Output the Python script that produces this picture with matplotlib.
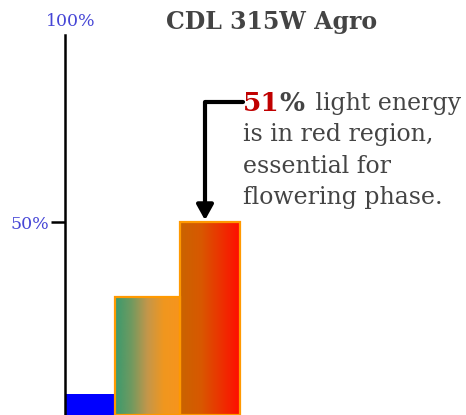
import numpy as np
import matplotlib
matplotlib.use('Agg')
import matplotlib.pyplot as plt
from matplotlib.colors import LinearSegmentedColormap

# data
band_edges = [0, 49, 50, 115, 115, 175]   # left/right edge of each band bar
shares = [4, 30, 50]                       # % of light energy per band
red_share = 51
title = 'CDL 315W Agro'
note_lines = [' light energy', 'is in red region,', 'essential for', 'flowering phase.']

gray = '#444444'
blue_lbl = '#4646d6'
serif = ['DejaVu Serif']

fig = plt.figure(figsize=(4.66, 4.15), dpi=100)
ax = fig.add_axes([65/466, 0, 401/466, 380/415])
ymin = -1.6
ax.set_xlim(0, 401)
ax.set_ylim(ymin, 100)

cmaps = [None,
         LinearSegmentedColormap.from_list('go', [(0, '#3a9a6e'), (0.25, '#6f9a60'),
                                                  (0.5, '#c4964a'), (0.75, '#f0971f'),
                                                  (1, '#f7941d')]),
         LinearSegmentedColormap.from_list('or', [(0, '#c96400'), (0.35, '#d85800'),
                                                  (1, '#ff0d00')])]

for i, v in enumerate(shares):
    x0, x1 = band_edges[2*i], band_edges[2*i+1]
    if i == 0:
        ax.bar(x0, v - ymin, width=x1 - x0, bottom=ymin, align='edge',
               color='#0000ff', edgecolor='none', zorder=2)
        continue
    r = ax.bar(x0, v - ymin, width=x1 - x0, bottom=ymin, align='edge',
               color='none', edgecolor='#ff9900', linewidth=1.6, zorder=3)[0]
    grad = np.linspace(0, 1, 256).reshape(1, -1)
    im = ax.imshow(grad, cmap=cmaps[i], extent=(x0, x1, ymin, v), aspect='auto',
                   zorder=2, interpolation='bicubic')
    im.set_clip_path(r)

ax.set_xlim(0, 401)
ax.set_ylim(ymin, 100)

for s in ['top', 'right', 'bottom']:
    ax.spines[s].set_visible(False)
ax.spines['left'].set_linewidth(1.8)
ax.spines['left'].set_zorder(4)
ax.set_xticks([])
ax.set_yticks([50])
ax.set_yticklabels(['50%'], color=blue_lbl, fontsize=12.5, family=serif)
ax.tick_params(axis='y', length=10, width=1.8, pad=1.5)
ax.text(6, 100 + 3.5, '100%', ha='center', va='center', color=blue_lbl,
        fontsize=12.5, family=serif, clip_on=False)

fig.text(272/466, 1 - 22/415, title, ha='center', va='center', color=gray,
         fontsize=17, fontweight='bold', family=serif)

# annotation with arrow
bar3_mid = (band_edges[4] + band_edges[5]) / 2 - 5
ax.annotate('', xy=(bar3_mid, shares[2] + 0.5), xytext=(178, 82),
            arrowprops=dict(arrowstyle='-|>,head_length=0.9,head_width=0.5',
                            connectionstyle='angle,angleA=180,angleB=90,rad=0',
                            color='black', lw=3, shrinkA=0, shrinkB=0),
            annotation_clip=False)

fig.canvas.draw()
r = fig.canvas.get_renderer()
fs = 17
x = 243
y = 415 - 101
step = 31.3
t1 = fig.text(x/466, y/415, str(red_share), color='#c00000', fontsize=fs + 2,
              fontweight='bold', family=serif, va='center_baseline', ha='left')
w1 = t1.get_window_extent(r).width
t2 = fig.text((x + w1)/466, y/415, '%', color=gray, fontsize=fs + 2,
              fontweight='bold', family=serif, va='center_baseline', ha='left')
w2 = t2.get_window_extent(r).width
fig.text((x + w1 + w2 + 3)/466, y/415, note_lines[0], color=gray, fontsize=fs,
         family=serif, va='center_baseline', ha='left')
for k, line in enumerate(note_lines[1:], start=1):
    fig.text(x/466, (y - k*step)/415, line, color=gray, fontsize=fs,
             family=serif, va='center_baseline', ha='left')

fig.savefig('out.png', dpi=100)
